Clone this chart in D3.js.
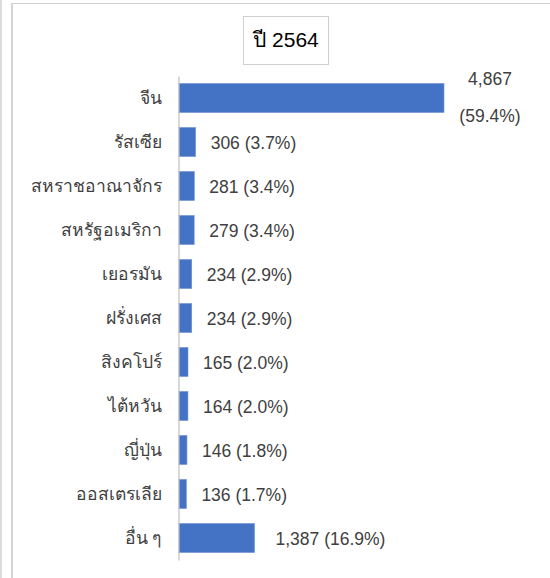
<!DOCTYPE html>
<html>
<head>
<meta charset="utf-8">
<script src="https://cdn.jsdelivr.net/npm/d3@7"></script>
<style>
  html, body { margin: 0; padding: 0; background: #fff; }
  svg { display: block; }
</style>
</head>
<body>
<svg id="chart" width="550" height="578"></svg>
<script>
const title = "ปี 2564";
const categories = ["จีน", "รัสเซีย", "สหราชอาณาจักร", "สหรัฐอเมริกา", "เยอรมัน", "ฝรั่งเศส", "สิงคโปร์", "ไต้หวัน", "ญี่ปุ่น", "ออสเตรเลีย", "อื่น ๆ"];
const values = [4867, 306, 281, 279, 234, 234, 165, 164, 146, 136, 1387];
const percents = ["59.4%", "3.7%", "3.4%", "3.4%", "2.9%", "2.9%", "2.0%", "2.0%", "1.8%", "1.7%", "16.9%"];
const axisMax = 6000;

const data = categories.map((c, i) => ({ cat: c, value: values[i], pct: percents[i] }));
const fmt = d3.format(",");

const svg = d3.select("#chart");
const font = "'Liberation Sans', Arial, 'Noto Sans', sans-serif";

// frame lines
svg.append("rect").attr("x", 0).attr("y", 0).attr("width", 2).attr("height", 578).attr("fill", "#dcdcdc");
svg.append("rect").attr("x", 11).attr("y", 3).attr("width", 2).attr("height", 575).attr("fill", "#d4d4d4");
svg.append("rect").attr("x", 12).attr("y", 3).attr("width", 538).attr("height", 1).attr("fill", "#d0d0d0");

// title box
svg.append("rect").attr("x", 243.5).attr("y", 16.5).attr("width", 85).attr("height", 48)
  .attr("fill", "#fff").attr("stroke", "#cfcfcf").attr("stroke-width", 1);
svg.append("text").attr("x", 286).attr("y", 47).attr("text-anchor", "middle")
  .attr("font-family", font).attr("font-size", 21).attr("fill", "#000").text(title);

const x = d3.scaleLinear().domain([0, axisMax]).range([179, 505.7]);
const y = d3.scaleBand().domain(categories).range([76, 560]).paddingInner(0.34).paddingOuter(0.17);

// bars
svg.append("g").selectAll("rect").data(data).join("rect")
  .attr("x", x(0))
  .attr("y", d => y(d.cat))
  .attr("width", d => x(d.value) - x(0))
  .attr("height", y.bandwidth())
  .attr("fill", "#4472C4")
  .attr("stroke", "#6f93d3").attr("stroke-width", 0.6);

// axis
const axis = d3.axisLeft(y).tickSize(0).tickPadding(17);
const gAxis = svg.append("g").attr("transform", `translate(${x(0) - 0.5},0)`).call(axis);
gAxis.select(".domain").attr("stroke", "#bfbfbf").attr("stroke-width", 1.2);
gAxis.selectAll("text").attr("font-family", font).attr("font-size", 17.5).attr("fill", "#404040");

// value labels
const labels = svg.append("g").attr("font-family", font).attr("font-size", 17.5).attr("fill", "#404040");
data.forEach((d, i) => {
  const cy = y(d.cat) + y.bandwidth() / 2;
  const text = `${fmt(d.value)} (${d.pct})`;
  if (i === 0) {
    const cx = x(d.value) + 46;
    labels.append("text").attr("x", cx).attr("y", cy - 13).attr("text-anchor", "middle").text(fmt(d.value));
    labels.append("text").attr("x", cx).attr("y", cy + 24).attr("text-anchor", "middle").text(`(${d.pct})`);
  } else {
    const gap = i === categories.length - 1 ? 21 : 15;
    labels.append("text").attr("x", x(d.value) + gap).attr("y", cy + 6.5).text(text);
  }
});
</script>
</body>
</html>
